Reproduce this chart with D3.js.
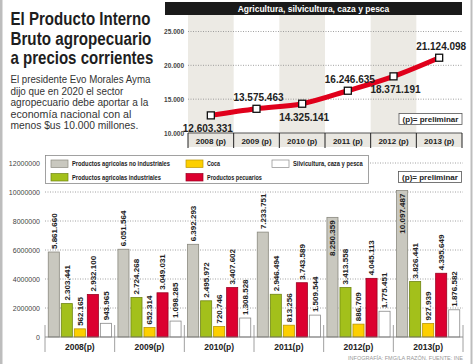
<!DOCTYPE html>
<html><head><meta charset="utf-8">
<script src="https://cdn.jsdelivr.net/npm/d3@7"></script>
<style>
html,body{margin:0;padding:0;background:#fff;}
svg{display:block;}
text{font-family:'Liberation Sans',Arial,sans-serif;}
</style></head>
<body>
<script>
// ---------- DATA ----------
const headline = ["El Producto Interno", "Bruto agropecuario", "a precios corrientes"];
const paragraph = ["El presidente Evo Morales Ayma", "dijo que en 2020 el sector", "agropecuario debe aportar a la", "economía nacional con al", "menos $us 10.000 millones."];

const lineTitle = "Agricultura, silvicultura, caza y pesca";
const lineYears = ["2008 (p)", "2009 (p)", "2010 (p)", "2011 (p)", "2012 (p)", "2013 (p)"];
const lineValues = [12603331, 13575463, 14325141, 16246635, 18371191, 21124098];
const lineLabels = ["12.603.331", "13.575.463", "14.325.141", "16.246.635", "18.371.191", "21.124.098"];
const lineLabelSide = ["below", "above", "below", "above", "below", "above"];
const lineTicks = [10000000, 15000000, 20000000, 25000000];
const lineTickLabels = ["10.000", "15.000", "20.000", "25.000"];

const barYears = ["2008(p)", "2009(p)", "2010(p)", "2011(p)", "2012(p)", "2013(p)"];
const seriesNames = ["Productos agricolas no industriales", "Productos agricolas industriales", "Coca", "Productos pecuarios", "Silvicultura, caza y pesca"];
const noIndustriales = [5861660, 6051564, 6392293, 7233751, 8250359, 10097487];
const industriales  = [2303441, 2724268, 2495972, 2946494, 3413558, 3826441];
const coca          = [562165, 652314, 720746, 813256, 886709, 927939];
const pecuarios     = [2932100, 3049031, 3407602, 3743589, 4045113, 4395649];
const silvicultura  = [943965, 1098285, 1308528, 1509544, 1775451, 1876582];
const barTicks = [0, 2000000, 4000000, 6000000, 8000000, 10000000, 12000000];
const barTickLabels = ["0", "2000000", "4000000", "6000000", "8000000", "10000000", "12000000"];
const footer = "INFOGRAFÍA: FMG/LA RAZÓN. FUENTE: INE";
const prelim = "(p)=  preliminar";

// ---------- STYLE ----------
const fills = ["#c9c8bf", "#a3c01b", "#fdcf00", "#dc0030", "#ffffff"];
const strokes = ["#8a897f", "#6f8512", "#b99500", "#9a0020", "#8a8a8a"];
const fmt = d => d3.format(",")(d).replace(/,/g, ".");

const W = 474, H = 364;
const svg = d3.select("body").append("svg").attr("width", W).attr("height", H);
svg.append("rect").attr("width", W).attr("height", H).attr("fill", "#fff");
svg.append("rect").attr("x", 0).attr("y", 0).attr("width", 2.5).attr("height", H).attr("fill", "#bdbdbd");
svg.append("rect").attr("x", 470.5).attr("y", 0).attr("width", 2).attr("height", H).attr("fill", "#bdbdbd");

// text squeezed horizontally to a target width (condensed look)
function fitText(parent, x, y, target, txt, size, weight, fill) {
  const t = parent.append("text").attr("font-size", size).attr("font-weight", weight).attr("fill", fill).text(txt);
  const len = t.node().getComputedTextLength() || target;
  t.attr("transform", `translate(${x},${y}) scale(${target / len},1)`);
  return t;
}

// ---------- HEADLINE ----------
const headLens = [140, 141, 143];
headline.forEach((t, i) => fitText(svg, 10.5, 25 + i * 19.5, headLens[i], t, 17.5, "bold", "#1e1e1e"));
const parLens = [140, 113, 138, 121, 128];
paragraph.forEach((t, i) => fitText(svg, 10.5, 83 + i * 11.5, parLens[i], t, 11, "normal", "#333"));

// ---------- LINE CHART ----------
const lx = d3.scaleBand().domain(lineYears).range([188, 462]);
const ly = d3.scaleLinear().domain([10000000, 25000000]).range([133, 31.5]);
const gTop = svg.append("g");
gTop.append("rect").attr("x", 165).attr("y", 2).attr("width", 297).attr("height", 13).attr("fill", "#1a1a1a");
gTop.append("text").attr("x", 313.5).attr("y", 12).attr("text-anchor", "middle")
  .attr("font-size", 8.5).attr("font-weight", "bold").attr("fill", "#fff").text(lineTitle);
gTop.selectAll(".band").data(lineYears.filter((d, i) => i % 2 === 0)).join("rect")
  .attr("x", d => lx(d)).attr("y", 15).attr("width", lx.bandwidth()).attr("height", 118).attr("fill", "#eceae4");
gTop.selectAll(".grid").data(lineTicks.slice(1)).join("line")
  .attr("x1", 188).attr("x2", 462).attr("y1", d => ly(d)).attr("y2", d => ly(d))
  .attr("stroke", "#8a8a8a").attr("stroke-width", 0.8).attr("stroke-dasharray", "1,1.5");
gTop.selectAll(".tl").data(lineTicks).join("text")
  .attr("x", 184).attr("y", d => ly(d) + 2.5).attr("text-anchor", "end")
  .attr("font-size", 6.5).attr("font-weight", "bold").attr("fill", "#444")
  .text((d, i) => lineTickLabels[i]);
// axis row
gTop.append("rect").attr("x", 188).attr("y", 133).attr("width", 274).attr("height", 14).attr("fill", "#e9e7e1");
gTop.append("line").attr("x1", 188).attr("x2", 462).attr("y1", 133).attr("y2", 133).attr("stroke", "#555").attr("stroke-width", 1);
gTop.selectAll(".sep").data(lineYears.concat(["end"])).join("line")
  .attr("x1", (d, i) => 188 + i * lx.bandwidth()).attr("x2", (d, i) => 188 + i * lx.bandwidth())
  .attr("y1", 133).attr("y2", 148).attr("stroke", "#222").attr("stroke-width", 1);
gTop.selectAll(".xl").data(lineYears).join("text")
  .attr("x", d => lx(d) + lx.bandwidth() / 2).attr("y", 143.5).attr("text-anchor", "middle")
  .attr("font-size", 8).attr("font-weight", "bold").attr("fill", "#222").text(d => d);
// line
const pts = lineYears.map((d, i) => [lx(d) + lx.bandwidth() / 2, ly(lineValues[i])]);
gTop.append("path").attr("d", d3.line().curve(d3.curveMonotoneX)(pts))
  .attr("fill", "none").attr("stroke", "#e0001b").attr("stroke-width", 5).attr("stroke-linecap", "round");
gTop.selectAll(".mk").data(pts).join("rect")
  .attr("x", d => d[0] - 3.5).attr("y", d => d[1] - 3.5).attr("width", 7).attr("height", 7)
  .attr("fill", "#fff").attr("stroke", "#111").attr("stroke-width", 1.3);
gTop.selectAll(".vl").data(pts).join("text")
  .attr("x", (d, i) => d[0] + (i === 0 ? -3 : 2))
  .attr("y", (d, i) => lineLabelSide[i] === "above" ? d[1] - 8 : d[1] + 17)
  .attr("text-anchor", "middle").attr("font-size", 10).attr("font-weight", "bold").attr("fill", "#222")
  .text((d, i) => lineLabels[i]);
gTop.append("rect").attr("x", 399).attr("y", 113.5).attr("width", 63).attr("height", 11)
  .attr("fill", "#fff").attr("stroke", "#555").attr("stroke-width", 0.8);
gTop.append("text").attr("x", 430.5).attr("y", 122).attr("text-anchor", "middle")
  .attr("font-size", 8).attr("font-weight", "bold").attr("fill", "#222").text(prelim);

// ---------- BAR CHART ----------
const series = [noIndustriales, industriales, coca, pecuarios, silvicultura];
const legendOrder = [0, 2, 4, 1, 3];
const bx = d3.scaleBand().domain(barYears).range([45, 463]);
const bs = d3.scaleBand().domain(d3.range(series.length)).range([0, bx.bandwidth()]).paddingInner(0.15).paddingOuter(0.25);
const by = d3.scaleLinear().domain([0, 12000000]).range([337, 163]);
const gBot = svg.append("g");
gBot.selectAll(".bg").data(barTicks.slice(1)).join("line")
  .attr("x1", 45).attr("x2", 463).attr("y1", d => by(d)).attr("y2", d => by(d))
  .attr("stroke", "#8a8a8a").attr("stroke-width", 0.8).attr("stroke-dasharray", "1,1.5");
gBot.selectAll(".btl").data(barTicks).join("text")
  .attr("x", 40).attr("y", d => by(d) + 2.5).attr("text-anchor", "end")
  .attr("font-size", 7).attr("fill", "#444").text((d, i) => barTickLabels[i]);
// legend
gBot.append("rect").attr("x", 45.5).attr("y", 155.5).attr("width", 323).attr("height", 28)
  .attr("fill", "#fff").attr("stroke", "#8a8a8a").attr("stroke-width", 0.8);
const legPos = [[51, 163.5], [186, 163.5], [272, 163.5], [51, 177], [186, 177]];
const legLens = {0: 98, 1: 89, 2: 13, 3: 55, 4: 70};
legendOrder.forEach((s, k) => {
  const [x, y] = legPos[k];
  gBot.append("rect").attr("x", x).attr("y", y - 3.5).attr("width", 17).attr("height", 7.5)
    .attr("fill", fills[s]).attr("stroke", strokes[s]).attr("stroke-width", 0.7);
  fitText(gBot, x + 21, y + 2.8, legLens[s], seriesNames[s], 8, "bold", "#222");
});
gBot.append("rect").attr("x", 398.5).attr("y", 171.5).attr("width", 63).attr("height", 11)
  .attr("fill", "#fff").attr("stroke", "#555").attr("stroke-width", 0.8);
gBot.append("text").attr("x", 430).attr("y", 180).attr("text-anchor", "middle")
  .attr("font-size", 8).attr("font-weight", "bold").attr("fill", "#222").text(prelim);
// bars
const barData = [];
barYears.forEach((yr, i) => series.forEach((arr, s) => barData.push({yr, s, v: arr[i]})));
gBot.selectAll(".bar").data(barData).join("rect")
  .attr("x", d => bx(d.yr) + bs(d.s)).attr("y", d => by(d.v))
  .attr("width", bs.bandwidth()).attr("height", d => by(0) - by(d.v))
  .attr("fill", d => fills[d.s]).attr("stroke", d => strokes[d.s]).attr("stroke-width", 0.8);
gBot.selectAll(".bl").data(barData).join("text")
  .attr("transform", d => {
    const cx = bx(d.yr) + bs(d.s) + bs.bandwidth() / 2;
    const inside = d.v > 8000000;
    const y = inside ? by(d.v) + 3 : by(d.v) - 3;
    return `translate(${cx},${y}) rotate(-90)`;
  })
  .attr("text-anchor", d => d.v > 8000000 ? "end" : "start")
  .attr("dy", "0.35em").attr("font-size", 8).attr("font-weight", "bold").attr("fill", "#222")
  .text(d => fmt(d.v));
// baseline & separators
gBot.append("line").attr("x1", 45).attr("x2", 463).attr("y1", 337).attr("y2", 337).attr("stroke", "#777").attr("stroke-width", 0.8);
gBot.selectAll(".bsep").data(barYears.concat(["end"])).join("line")
  .attr("x1", (d, i) => 45 + i * bx.bandwidth()).attr("x2", (d, i) => 45 + i * bx.bandwidth())
  .attr("y1", 325).attr("y2", 352).attr("stroke", "#888").attr("stroke-width", 0.8);
gBot.selectAll(".bxl").data(barYears).join("text")
  .attr("x", d => bx(d) + bx.bandwidth() / 2).attr("y", 350).attr("text-anchor", "middle")
  .attr("font-size", 8.5).attr("font-weight", "bold").attr("fill", "#222").text(d => d);
svg.append("text").attr("x", 463).attr("y", 360).attr("text-anchor", "end")
  .attr("font-size", 5.5).attr("fill", "#999").text(footer);
</script>
</body></html>
